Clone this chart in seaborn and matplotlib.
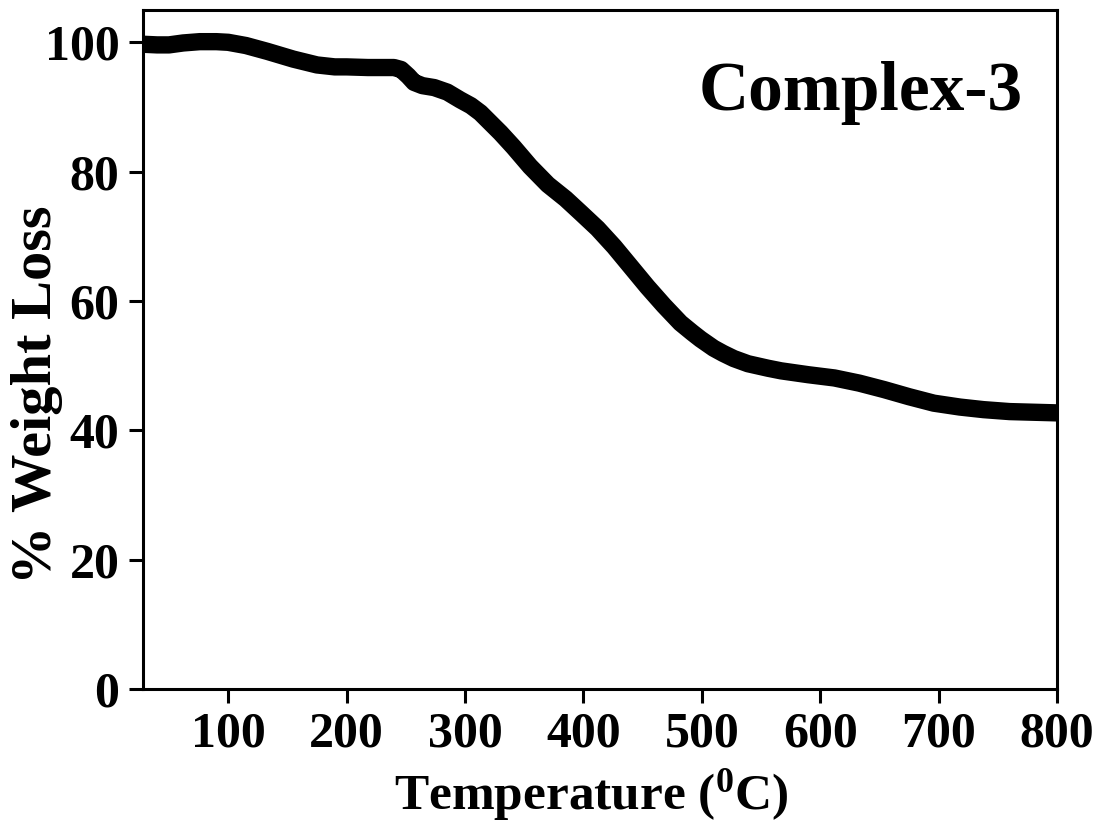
import matplotlib
matplotlib.use("Agg")
import matplotlib.pyplot as plt
import seaborn as sns
import pandas as pd

# Data
temperature = [28, 40, 50, 62, 76, 90, 100, 115, 133, 155, 175, 190, 200, 218, 240, 246,
               252, 257, 264, 274, 285, 296, 305, 313, 330, 341, 355, 370, 385, 398,
               412, 426, 440, 454, 468, 482, 492, 499, 510, 518, 527, 539, 556,
               567, 590, 612, 633, 654, 675, 696, 718, 738, 760, 780, 800]
weight = [99.7, 99.6, 99.6, 99.9, 100.1, 100.1, 100.0, 99.5, 98.6, 97.4, 96.5, 96.2, 96.2, 96.1, 96.1, 95.8,
          94.8, 93.8, 93.3, 93.0, 92.3, 91.1, 90.2, 89.1, 86.0, 83.8, 80.8, 78.0, 75.8, 73.6,
          71.2, 68.4, 65.3, 62.2, 59.3, 56.6, 55.1, 54.1, 52.7, 51.9, 51.1, 50.3, 49.6,
          49.2, 48.6, 48.1, 47.3, 46.3, 45.2, 44.2, 43.6, 43.2, 42.9, 42.8, 42.7]
x_ticks = [100, 200, 300, 400, 500, 600, 700, 800]
y_ticks = [0, 20, 40, 60, 80, 100]
sample_label = "Complex-3"

df = pd.DataFrame({"Temperature": temperature, "Weight": weight})

sns.set_theme(style="ticks")
plt.rcParams["font.family"] = ["Liberation Serif", "DejaVu Serif"]
plt.rcParams["font.weight"] = "bold"
plt.rcParams["text.color"] = "black"
plt.rcParams["axes.labelcolor"] = "black"
plt.rcParams["xtick.color"] = "black"
plt.rcParams["ytick.color"] = "black"
plt.rcParams["mathtext.fontset"] = "custom"
plt.rcParams["mathtext.rm"] = "Liberation Serif:bold"
plt.rcParams["mathtext.bf"] = "Liberation Serif:bold"
plt.rcParams["mathtext.it"] = "Liberation Serif:bold"

fig = plt.figure(figsize=(11.03, 8.24), dpi=100)
ax = fig.add_axes([0.1296, 0.1638, 0.9583 - 0.1296, 0.9879 - 0.1638])

sns.lineplot(data=df, x="Temperature", y="Weight", ax=ax, color="black",
             linewidth=12.5, solid_capstyle="butt", solid_joinstyle="round")

ax.set_xlim(28, 800)
ax.set_ylim(0, 105)
ax.set_xticks(x_ticks)
ax.set_yticks(y_ticks)

for s in ax.spines.values():
    s.set_linewidth(2.2)
    s.set_color("black")
    s.set_visible(True)

ax.tick_params(axis="both", which="major", direction="out", length=10, width=2.2,
               color="black", labelcolor="black", labelsize=36, top=False, right=False)
ax.tick_params(axis="y", pad=7)
ax.tick_params(axis="x", pad=6)
for lab in ax.get_xticklabels() + ax.get_yticklabels():
    lab.set_fontweight("bold")

ax.set_xlabel(r"Temperature ($\mathregular{^0}$C)", fontsize=37, fontweight="bold", color="black")
ax.set_ylabel("% Weight Loss", fontsize=42, fontweight="bold", color="black")
ax.yaxis.set_label_coords(-0.087, 0.433)
ax.xaxis.set_label_coords(0.49, -0.115)

ax.text(0.785, 0.878, sample_label, transform=ax.transAxes, fontsize=50,
        fontweight="bold", ha="center", va="center", color="black")

fig.savefig("out.png", dpi=100, facecolor="white")
